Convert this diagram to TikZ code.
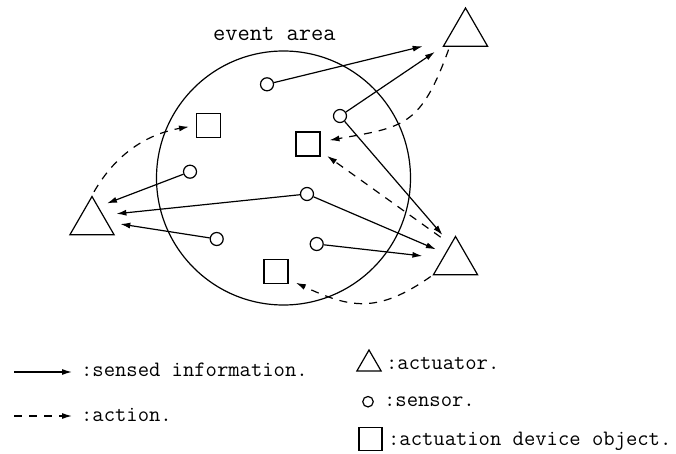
\documentclass[tikz,border=0pt]{standalone}
\usepackage{fontspec}
\usetikzlibrary{arrows.meta,shapes.geometric}

\begin{document}
\begin{tikzpicture}[x=1pt, y=-1pt, line width=1.2pt,
   sensor/.style={circle, draw, inner sep=0pt, minimum size=13pt},
   actuator/.style={regular polygon, regular polygon sides=3, draw, inner sep=0pt, minimum size=51pt},
   device/.style={rectangle, draw, inner sep=0pt, minimum size=24pt},
   sensed/.style={-{Latex[length=10pt,width=6pt]}},
   action/.style={-{Latex[length=10pt,width=6pt]}, dash pattern=on 8pt off 7pt},
   txt/.style={inner sep=0pt, anchor=base west, font=\fontsize{22}{24}\selectfont\ttfamily}]
   \useasboundingbox (0,0) rectangle (676,454);
   \draw (283.5,178) circle (127pt);
   \node (area) [txt, font=\fontsize{23.8}{26}\selectfont\ttfamily] at (212.5,40.7) {event area};
 \begin{scope}[every node/.style=sensor]
   \node (s1) at (267,84.3) {};
   \node (s2) at (340,116) {};
   \node (s3) at (190,171.7) {};
   \node (s4) at (307,194) {};
   \node (s5) at (216.7,239) {};
   \node (s6) at (316.7,244) {};
 \end{scope}
   \node (a1) [actuator] at (465.5,33.5) {};
   \node (a2) [actuator] at (92,222) {};
   \node (a3) [actuator] at (455.5,262) {};
   \node (d1) [device] at (208.5,125.5) {};
   \node (d2) [device] at (308,144) {};
   \node (d3) [device] at (276,271.5) {};
   \draw[sensed, shorten >=24pt] (s1) -- (a1.200);
   \draw[sensed, shorten >=9pt] (s2) -- (a1.corner 2);
   \draw[sensed, shorten >=12pt] (s2) -- (a3.106);
   \draw[sensed, shorten >=10pt] (s4) -- (a3.140);
   \draw[sensed, shorten >=20pt] (s6) -- (a3.164);
   \draw[sensed, shorten >=9pt] (s3) -- (a2.67);
   \draw[sensed, shorten >=13pt] (s4) -- (a2.31);
   \draw[sensed, shorten >=13pt] (s5) -- (a2.0);
   \draw[action, shorten <=4pt, shorten >=7pt] (a2.corner 1) to[out=60, in=190] (d1.west);
   \draw[action, shorten <=3pt, shorten >=9pt] (a1.220) to[out=250, in=10, looseness=1.35] (d2.10);
   \draw[action, shorten <=12pt, shorten >=8pt] (a3.106) -- (d2.-30);
   \draw[action, shorten <=2pt, shorten >=8pt] (a3.corner 2) to[out=215, in=-25, looseness=1.2] (d3.-32);
   % legend
   \coordinate (l1) at (14,372);
   \coordinate (l2) at (72,372);
   \coordinate (l3) at (14,416);
   \coordinate (l4) at (72,416);
   \draw[sensed] (l1) -- (l2);
   \draw[action] (l3) -- (l4);
   \node (t1) [txt] at (80.5,376) {:sensed information.};
   \node (t2) [txt] at (80.5,421.5) {:action.};
   \node (k1) [actuator, minimum size=28pt] at (369,364) {};
   \node (k2) [sensor, minimum size=10.5pt] at (368,401.7) {};
   \node (k3) [device, minimum size=23pt] at (370.5,439) {};
   \node (t3) [txt] at (385.5,369.5) {:actuator.};
   \node (t4) [txt] at (383.5,406.5) {:sensor.};
   \node (t5) [txt] at (387.5,445) {:actuation device object.};
\end{tikzpicture}
\end{document}
